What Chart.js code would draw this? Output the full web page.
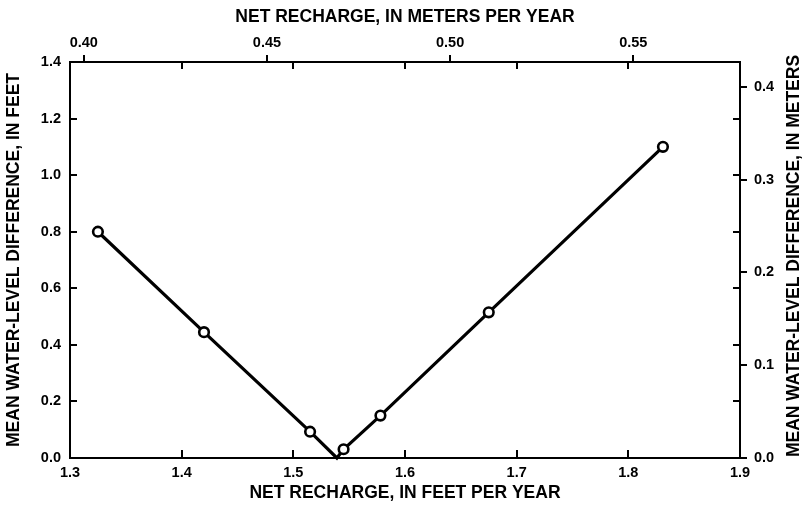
<!DOCTYPE html>
<html><head><meta charset="utf-8">
<script src="https://cdn.jsdelivr.net/npm/chart.js@4/dist/chart.umd.min.js"></script>
<style>html,body{margin:0;padding:0;background:#fff}#wrap{width:804px;height:508px}</style>
</head><body><div id="wrap"><canvas id="c" width="804" height="508"></canvas></div>
<script>
// Data
const rechargeFeet  = [1.325, 1.420, 1.515, 1.539, 1.545, 1.578, 1.675, 1.831];
const levelDiffFeet = [0.80, 0.445, 0.093, 0.0, 0.031, 0.15, 0.515, 1.10];
const hasMarker     = [true, true, true, false, true, true, true, true];
const feetXTicks  = [1.3, 1.4, 1.5, 1.6, 1.7, 1.8, 1.9];
const meterXTicks = [0.40, 0.45, 0.50, 0.55];
const feetYTicks  = [0.0, 0.2, 0.4, 0.6, 0.8, 1.0, 1.2, 1.4];
const meterYTicks = [0.0, 0.1, 0.2, 0.3, 0.4];
const xRange = [1.3, 1.9];
const yRange = [0, 1.4];
const FT_TO_M = 0.3048;
const titleBottom = 'NET RECHARGE, IN FEET PER YEAR';
const titleTop = 'NET RECHARGE, IN METERS PER YEAR';
const titleLeft = 'MEAN WATER-LEVEL DIFFERENCE, IN FEET';
const titleRight = 'MEAN WATER-LEVEL DIFFERENCE, IN METERS';

const FAMILY = '"Liberation Sans", Arial, sans-serif';
const tickFont = {family: FAMILY, size: 14.5, weight: 'bold'};
const titleFont = {family: FAMILY, size: 17.5, weight: 'bold'};
const border = {display: true, color: '#000', width: 2};

const tickPlugin = {
  id: 'ticksAndRightTitle',
  afterDraw(chart) {
    const ctx = chart.ctx, s = chart.scales, ca = chart.chartArea;
    ctx.save();
    ctx.strokeStyle = '#000';
    ctx.lineWidth = 2;
    const line = (x1, y1, x2, y2) => { ctx.beginPath(); ctx.moveTo(x1, y1); ctx.lineTo(x2, y2); ctx.stroke(); };
    feetXTicks.forEach(v => {
      const x = Math.round(s.x.getPixelForValue(v));
      line(x, ca.bottom, x, ca.bottom - 8);
      line(x, ca.top, x, ca.top + 7);
    });
    meterXTicks.forEach(v => {
      const x = Math.round(s.x2.getPixelForValue(v));
      line(x, ca.top, x, ca.top - 7);
    });
    feetYTicks.forEach(v => {
      const y = Math.round(s.y.getPixelForValue(v));
      line(ca.left, y, ca.left + 7, y);
      line(ca.right, y, ca.right - 7, y);
    });
    meterYTicks.forEach(v => {
      const y = Math.round(s.y2.getPixelForValue(v));
      line(ca.right, y, ca.right + 7, y);
    });
    // right axis title, reading bottom-to-top like the left one
    ctx.fillStyle = '#000';
    ctx.font = 'bold 17.5px ' + FAMILY;
    ctx.textAlign = 'center';
    ctx.textBaseline = 'middle';
    ctx.translate(794, (ca.top + ca.bottom) / 2 - 4);
    ctx.rotate(-Math.PI / 2);
    ctx.fillText(titleRight, 0, 0);
    ctx.restore();
  }
};

new Chart(document.getElementById('c'), {
  type: 'line',
  data: {
    datasets: [{
      data: rechargeFeet.map((x, i) => ({x: x, y: levelDiffFeet[i]})),
      xAxisID: 'x', yAxisID: 'y',
      borderColor: '#000', borderWidth: 3.2,
      pointRadius: c => hasMarker[c.dataIndex] ? 4.8 : 0,
      pointBackgroundColor: '#fff', pointBorderColor: '#000', pointBorderWidth: 2.6,
      tension: 0, clip: false, fill: false
    }]
  },
  options: {
    responsive: false, animation: false, devicePixelRatio: 1,
    layout: {padding: 0},
    plugins: {legend: {display: false}, tooltip: {enabled: false}},
    scales: {
      x: {
        type: 'linear', position: 'bottom', min: xRange[0], max: xRange[1],
        afterBuildTicks: sc => { sc.ticks = feetXTicks.map(v => ({value: v})); },
        afterFit: sc => { sc.height = 50; },
        grid: {display: false, drawTicks: false}, border: border,
        ticks: {padding: 6, color: '#000', font: tickFont, autoSkip: false, maxRotation: 0, callback: v => Number(v).toFixed(1)},
        title: {display: true, text: titleBottom, color: '#000', font: titleFont, padding: {top: 0, bottom: 4}}
      },
      x2: {
        type: 'linear', position: 'top', min: xRange[0] * FT_TO_M, max: xRange[1] * FT_TO_M,
        afterBuildTicks: sc => { sc.ticks = meterXTicks.map(v => ({value: v})); },
        afterFit: sc => { sc.height = 62; },
        grid: {display: false, drawTicks: false}, border: border,
        ticks: {padding: 10, color: '#000', font: tickFont, autoSkip: false, maxRotation: 0, callback: v => Number(v).toFixed(2)},
        title: {display: true, text: titleTop, color: '#000', font: titleFont, padding: {top: 7, bottom: 0}}
      },
      y: {
        type: 'linear', position: 'left', min: yRange[0], max: yRange[1],
        afterBuildTicks: sc => { sc.ticks = feetYTicks.map(v => ({value: v})); },
        afterFit: sc => { sc.width = 70; },
        grid: {display: false, drawTicks: false}, border: border,
        ticks: {padding: 9, color: '#000', font: tickFont, autoSkip: false, callback: v => Number(v).toFixed(1)},
        title: {display: true, text: titleLeft, color: '#000', font: titleFont, padding: {top: 4, bottom: 0}}
      },
      y2: {
        type: 'linear', position: 'right', min: yRange[0] * FT_TO_M, max: yRange[1] * FT_TO_M,
        afterBuildTicks: sc => { sc.ticks = meterYTicks.map(v => ({value: v})); },
        afterFit: sc => { sc.width = 64; },
        grid: {display: false, drawTicks: false}, border: border,
        ticks: {padding: 14, color: '#000', font: tickFont, autoSkip: false, callback: v => Number(v).toFixed(1)},
        title: {display: false}
      }
    }
  },
  plugins: [tickPlugin]
});
</script></body></html>
